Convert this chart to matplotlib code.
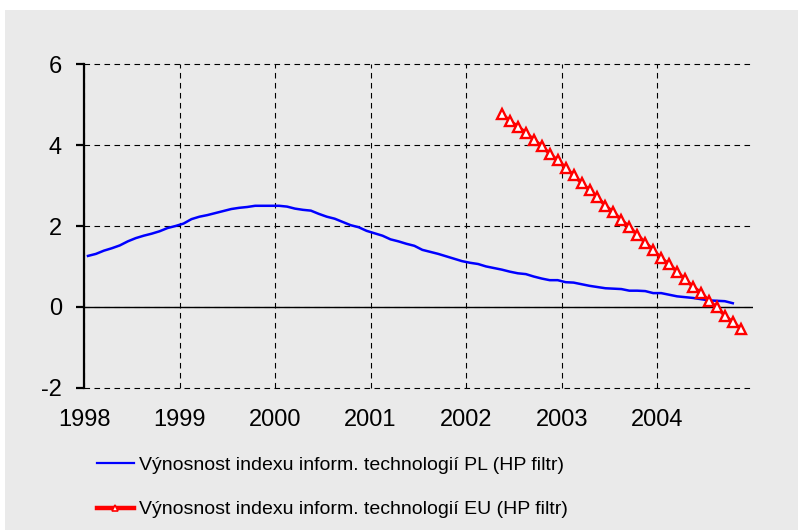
import matplotlib
matplotlib.use("Agg")
import matplotlib.pyplot as plt
from matplotlib.lines import Line2D
from matplotlib.patches import Rectangle
import numpy as np

# ---- data (monthly) ----
pl_start = (1998, 1)
pl_values = [
    1.26, 1.31, 1.39, 1.45, 1.52, 1.62, 1.70, 1.76, 1.81, 1.87, 1.95, 2.00,
    2.06, 2.17, 2.23, 2.27, 2.32, 2.37, 2.42, 2.45, 2.47, 2.50, 2.50, 2.50,
    2.50, 2.48, 2.43, 2.40, 2.38, 2.30, 2.23, 2.18, 2.10, 2.02, 1.97, 1.88,
    1.82, 1.76, 1.67, 1.62, 1.56, 1.51, 1.41, 1.36, 1.31, 1.25, 1.19, 1.13,
    1.09, 1.06, 1.00, 0.96, 0.92, 0.87, 0.83, 0.81, 0.75, 0.70, 0.66, 0.66,
    0.61, 0.60, 0.56, 0.52, 0.49, 0.46, 0.45, 0.44, 0.40, 0.40, 0.39, 0.34,
    0.34, 0.30, 0.26, 0.24, 0.22, 0.19, 0.16, 0.15, 0.14, 0.09,
]
eu_start = (2002, 5)
eu_values = [
    4.77, 4.60, 4.46, 4.31, 4.13, 3.98, 3.78, 3.63, 3.43, 3.26, 3.06, 2.89,
    2.71, 2.50, 2.34, 2.15, 1.98, 1.78, 1.59, 1.41, 1.20, 1.06, 0.87, 0.68,
    0.50, 0.35, 0.15, -0.01, -0.22, -0.38, -0.54,
]
year_ticks = [1998, 1999, 2000, 2001, 2002, 2003, 2004]
y_ticks = [-2, 0, 2, 4, 6]
label_pl = "Výnosnost indexu inform. technologií PL (HP filtr)"
label_eu = "Výnosnost indexu inform. technologií EU (HP filtr)"


def month_positions(start, n):
    y, m = start
    base = y + (m - 0.5) / 12.0
    return base + np.arange(n) / 12.0


x_pl = month_positions(pl_start, len(pl_values))
x_eu = month_positions(eu_start, len(eu_values))

plt.rcParams["font.family"] = ["Liberation Sans", "DejaVu Sans"]

fig = plt.figure(figsize=(7.98, 5.30), dpi=100, facecolor="white")
bg = Rectangle((5 / 798, 0), 793 / 798, 520 / 530, transform=fig.transFigure,
               facecolor="#EAEAEA", edgecolor="none", zorder=-10)
fig.patches.append(bg)

ax = fig.add_axes([84 / 798, 142.3 / 530, (752.7 - 84) / 798, (465.7 - 142.3) / 530])
ax.set_facecolor("none")

ax.plot(x_pl, pl_values, color="#0000FF", lw=1.8, zorder=3)
ax.plot(x_eu, eu_values, color="#FF0000", lw=2.4, marker="^", ms=7.5,
        mfc="white", mec="#FF0000", mew=1.7, zorder=4)

ax.axhline(0, color="black", lw=1.0, zorder=2)

ax.set_xlim(1998, 2005)
ax.set_ylim(-2, 6)
ax.set_xticks(year_ticks)
ax.set_xticklabels([str(y) for y in year_ticks])
ax.set_yticks(y_ticks)
ax.set_yticklabels([str(v) for v in y_ticks])

for s in ["top", "right", "bottom"]:
    ax.spines[s].set_visible(False)
ax.spines["left"].set_linewidth(1.6)
ax.spines["left"].set_zorder(5)

ax.tick_params(axis="x", length=0, pad=15, labelsize=17)
ax.tick_params(axis="y", length=6, width=1.6, pad=10, labelsize=17, direction="out")

ax.grid(True, color="black", lw=0.8, ls=(0, (5, 4)), zorder=1)
for gl in ax.get_xgridlines() + ax.get_ygridlines():
    gl.set_clip_on(False)

h_pl = Line2D([], [], color="#0000FF", lw=1.6)
h_eu = Line2D([], [], color="#FF0000", lw=3.2, marker="^", ms=5,
              mfc="white", mec="#FF0000", mew=1.2)
leg = fig.legend([h_pl, h_eu], [label_pl, label_eu], loc="upper left",
                 bbox_to_anchor=(97 / 798, (530 - 456) / 530), frameon=False,
                 handlelength=1.9, handletextpad=0.26, labelspacing=1.4,
                 borderpad=0, borderaxespad=0,
                 prop={"family": ["Liberation Sans", "DejaVu Sans"], "size": 14})

fig.savefig("out.png", dpi=100, facecolor="white")
